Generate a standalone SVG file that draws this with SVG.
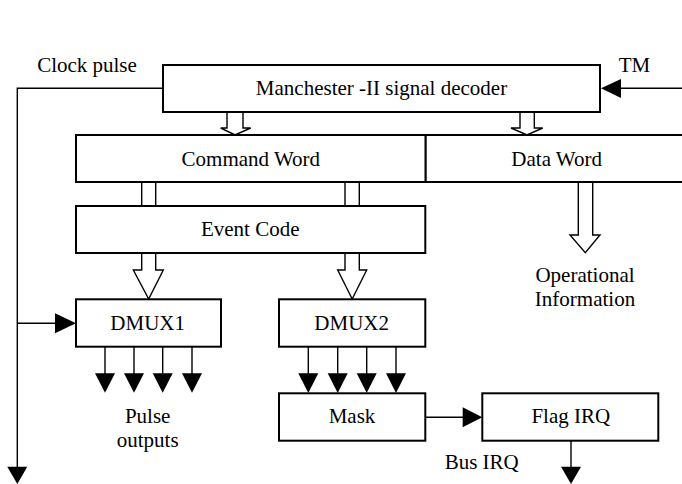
<svg xmlns="http://www.w3.org/2000/svg" width="682" height="484" viewBox="0 0 682 484">
<style>
.box{fill:#fff;stroke:#000;stroke-width:2}
.ln{fill:none;stroke:#000;stroke-width:1.4}
.hol{fill:#fff;stroke:#000;stroke-width:1.4;stroke-linejoin:miter}
.ah{fill:#000;stroke:none}
text{font-family:"Liberation Serif","Times New Roman",serif;font-size:21px;fill:#000;text-anchor:middle}
</style>
<rect width="682" height="484" fill="#fff"/>
<g id="connectors">
<!-- clock pulse -->
<polyline class="ln" points="163,88.3 17.3,88.3 17.3,467"/>
<polygon class="ah" points="7.3,466.7 27.3,466.7 17.3,484"/>
<line class="ln" x1="17.3" y1="323.3" x2="56" y2="323.3"/>
<polygon class="ah" points="55,313.3 76,323.3 55,333.3"/>
<!-- TM -->
<line class="ln" x1="682" y1="88.3" x2="620" y2="88.3"/>
<polygon class="ah" points="621,79 601,88.3 621,98"/>
<!-- hollow arrows from decoder -->
<polygon class="hol" points="227,112 243,112 243,128 250.7,128 235,135 220.7,128 227,128"/>
<polygon class="hol" points="520,112 534.3,112 534.3,128 542.7,128 527,135 511,128 520,128"/>
<!-- stems command -> event -->
<rect class="hol" x="141.7" y="182" width="14" height="24"/>
<rect class="hol" x="345" y="182" width="14.3" height="24"/>
<!-- event -> dmux -->
<polygon class="hol" points="141.7,253 155.7,253 155.7,270 163.3,270 148.7,299 133.3,270 141.7,270"/>
<polygon class="hol" points="345,253 359.3,253 359.3,270 366.7,270 352.2,299 337.7,270 345,270"/>
<!-- data word -> operational -->
<polygon class="hol" points="578.3,182 592.7,182 592.7,235 600,235 585.3,252.7 570,235 578.3,235"/>
<!-- DMUX1 outputs -->
<g>
<line class="ln" x1="105" y1="347" x2="105" y2="374"/>
<polygon class="ah" points="95,373.3 115,373.3 105,392.7"/>
<line class="ln" x1="134" y1="347" x2="134" y2="374"/>
<polygon class="ah" points="124,373.3 144,373.3 134,392.7"/>
<line class="ln" x1="162.7" y1="347" x2="162.7" y2="374"/>
<polygon class="ah" points="152.7,373.3 172.7,373.3 162.7,392.7"/>
<line class="ln" x1="192" y1="347" x2="192" y2="374"/>
<polygon class="ah" points="182,373.3 202,373.3 192,392.7"/>
</g>
<!-- DMUX2 outputs -->
<g>
<line class="ln" x1="308.3" y1="347" x2="308.3" y2="374"/>
<polygon class="ah" points="298.3,373.3 318.3,373.3 308.3,393"/>
<line class="ln" x1="337.7" y1="347" x2="337.7" y2="374"/>
<polygon class="ah" points="327.7,373.3 347.7,373.3 337.7,393"/>
<line class="ln" x1="366.7" y1="347" x2="366.7" y2="374"/>
<polygon class="ah" points="356.7,373.3 376.7,373.3 366.7,393"/>
<line class="ln" x1="396" y1="347" x2="396" y2="374"/>
<polygon class="ah" points="386,373.3 406,373.3 396,393"/>
</g>
<!-- Mask -> Flag -->
<line class="ln" x1="425" y1="417.3" x2="463" y2="417.3"/>
<polygon class="ah" points="462.7,407.3 482.3,417.3 462.7,427.3"/>
<!-- Flag output -->
<line class="ln" x1="571" y1="441" x2="571" y2="467"/>
<polygon class="ah" points="561,466.7 581,466.7 571,484"/>
</g>
<g id="decoder"><rect class="box" x="163" y="65" width="437" height="47"/><text x="381.5" y="95">Manchester -II signal decoder</text></g>
<g id="command-word"><rect class="box" x="76" y="135" width="349.7" height="47"/><text x="250.8" y="166">Command Word</text></g>
<g id="data-word"><rect class="box" x="425.7" y="135" width="260" height="47"/><text x="556.7" y="166">Data Word</text></g>
<g id="event-code"><rect class="box" x="76" y="206" width="349.3" height="47"/><text x="250.2" y="235.7">Event Code</text></g>
<g id="dmux1"><rect class="box" x="76" y="299.3" width="145" height="47.4"/><text x="147.7" y="330">DMUX1</text></g>
<g id="dmux2"><rect class="box" x="279" y="299.3" width="146.3" height="47.4"/><text x="351.7" y="330">DMUX2</text></g>
<g id="mask"><rect class="box" x="279" y="393.3" width="146.3" height="47.4"/><text x="352" y="423.3">Mask</text></g>
<g id="flag-irq"><rect class="box" x="482.3" y="393.3" width="176" height="47.4"/><text x="570.8" y="423.3">Flag IRQ</text></g>
<g id="labels">
<text x="87" y="72">Clock pulse</text>
<text x="634.5" y="72">TM</text>
<text x="147.7" y="422.7">Pulse</text>
<text x="147.7" y="446.7">outputs</text>
<text x="585" y="281.7">Operational</text>
<text x="585" y="306">Information</text>
<text x="481.7" y="469.3">Bus IRQ</text>
</g>
</svg>
